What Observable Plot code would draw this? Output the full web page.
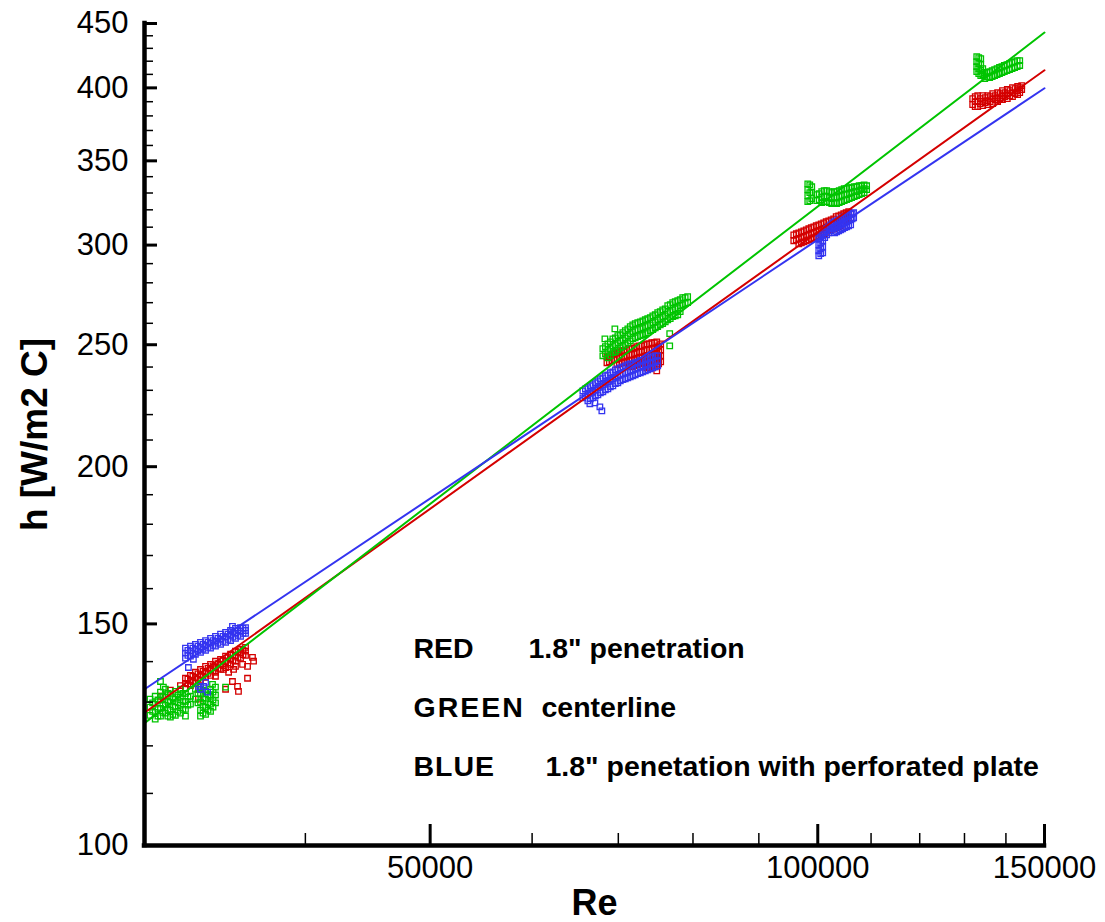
<!DOCTYPE html>
<html><head><meta charset="utf-8">
<script src="https://cdn.jsdelivr.net/npm/d3@7"></script>
<script src="https://cdn.jsdelivr.net/npm/@observablehq/plot@0.6"></script>
<style>body{margin:0;background:#fff}svg{display:block}</style>
</head><body><div id="chart"></div>
<script>
// ---- data: [Re, h] ----
const red1 = [[30870,131.4],[31420,132.9],[31990,134.0],[32280,135.8],[32280,134.5],[32280,133.3],[32570,136.5],[32570,135.3],[32570,134.0],[32860,137.3],[32860,136.0],[32860,134.6],[33160,138.0],[33160,136.5],[33160,135.3],[33460,138.8],[33460,137.3],[33460,136.0],[33760,139.3],[33760,138.0],[33760,136.5],[34060,140.1],[34060,138.5],[34060,137.3],[34370,140.6],[34370,139.3],[34370,138.0],[34680,141.4],[34680,140.1],[34680,138.5],[34990,141.9],[34990,140.6],[34990,139.3],[35300,142.7],[35300,141.4],[35300,140.1],[35620,143.2],[35620,142.2],[35620,140.9],[35940,143.7],[35940,142.7],[35940,141.6],[36390,141.1],[36460,140.1],[36070,138.8],[35750,139.3],[35300,138.8],[34550,138.0],[34060,136.3],[34680,133.1],[35430,133.8],[35490,132.6],[35110,135.0],[36070,135.8],[35180,138.0],[34870,137.3],[33040,133.1],[33040,130.7],
  [32420,135.6],[32420,134.4],[32710,136.3],[32710,135.0],[33010,136.9],[33010,135.6],[33310,137.5],[33310,136.3],[33610,138.3],[33610,137.0],[33910,138.9],[33910,137.6],[34210,139.5],[34210,138.3],[34520,140.3],[34520,139.0],[34830,141.0],[34830,139.7],[35140,141.6],[35140,140.3],[35460,142.4],[35460,141.1],[35780,142.9],[35780,141.8]];
const red2 = [[68590,244.6],[68590,241.9],[69200,245.5],[69200,242.8],[69820,246.4],[69820,243.7],[69820,241.0],[70440,247.3],[70440,244.6],[70440,241.9],[71070,247.7],[71070,245.0],[71070,242.3],[71710,248.2],[71710,245.5],[71710,242.8],[71710,240.1],[72350,249.1],[72350,246.4],[72350,243.7],[72350,241.0],[73000,249.5],[73000,246.8],[73000,244.1],[73000,241.4],[73650,250.4],[73650,247.7],[73650,245.0],[73650,242.3],[73650,239.6],[74320,250.9],[74320,248.2],[74320,245.5],[74320,242.8],[74320,240.1],[74980,251.3],[74980,248.6],[74980,245.9],[74980,243.2],[74980,240.5],[74980,238.3],[75510,250.4],[75510,247.7],[75510,245.0],[75510,242.3],
  [68890,245.0],[68890,242.3],[69510,245.9],[69510,243.2],[70130,246.8],[70130,244.1],[70130,241.4],[70760,247.3],[70760,244.6],[70760,241.9],[71390,248.2],[71390,245.5],[71390,242.8],[71390,240.5],[72030,248.6],[72030,245.9],[72030,243.2],[72030,240.5],[72670,249.5],[72670,246.8],[72670,244.1],[72670,241.4],[73320,250.0],[73320,247.3],[73320,244.6],[73320,241.9],[73980,250.4],[73980,247.7],[73980,245.0],[73980,242.3],[73980,239.6],[74650,250.9],[74650,248.2],[74650,245.5],[74650,242.8],[74650,240.1],[75240,249.5],[75240,246.8],[75240,244.1],[75240,241.4]];
const red3 = [[95800,305.7],[95800,302.4],[96670,306.8],[96670,303.5],[96670,300.7],[97540,307.9],[97540,304.6],[97540,301.8],[98410,309.1],[98410,305.7],[98410,302.9],[99290,310.2],[99290,306.8],[99290,304.1],[100180,311.3],[100180,307.9],[100180,305.2],[101070,312.5],[101070,309.1],[101070,306.3],[101980,313.6],[101980,310.2],[101980,307.9],[102890,314.8],[102890,311.9],[102890,309.1],[103810,316.5],[103810,313.1],[103810,310.2],[104750,317.7],[104750,314.2],[105690,318.9],[105690,315.4],
  [96240,306.3],[96240,302.9],[97110,307.4],[97110,304.1],[97110,301.3],[97970,308.5],[97970,305.2],[97970,302.4],[98850,309.7],[98850,306.3],[98850,303.5],[99730,310.8],[99730,307.4],[99730,304.6],[100620,311.9],[100620,308.5],[100620,305.7],[101520,313.1],[101520,309.7],[101520,306.8],[102430,314.2],[102430,311.3],[102430,308.5],[103350,316.0],[103350,312.5],[103350,309.7],[104280,317.1],[104280,313.6],[104280,310.8],[105210,318.3],[105210,314.8]];
const red4 = [[131920,392.2],[131920,387.9],[133120,394.4],[133120,390.0],[133120,386.5],[134320,394.4],[134320,390.0],[134320,387.2],[135520,394.4],[135520,390.8],[135520,387.9],[136730,395.8],[136730,392.2],[136730,388.6],[137940,396.6],[137940,392.9],[137940,390.0],[139140,398.0],[139140,394.4],[139140,391.5],[140350,398.8],[140350,395.8],[140350,392.2],[141660,400.2],[141660,396.6],[141660,393.7],[142960,401.0],[142960,398.0],[142960,395.1],[144010,401.7],[144010,398.8],
  [132520,393.7],[132520,390.0],[132520,386.5],[133720,392.2],[133720,388.6],[134920,392.9],[134920,389.3],[136120,393.7],[136120,390.0],[137330,394.4],[137330,391.5],[138540,395.8],[138540,392.2],[139750,396.6],[139750,393.7],[141000,398.0],[141000,394.4],[142300,399.5],[142300,395.8],[143500,400.2],[143500,396.6]];
const green1 = [[30300,130.7],[30300,128.8],[30300,126.9],[30580,131.4],[30580,129.5],[30580,127.6],[30580,126.0],[30870,135.0],[30870,132.4],[30870,130.5],[30870,128.5],[30870,126.7],[31140,133.1],[31140,131.2],[31140,129.3],[31140,127.4],[31420,131.9],[31420,130.0],[31420,128.1],[31420,126.5],[31700,132.6],[31700,130.7],[31700,128.8],[31700,126.9],[31990,133.1],[31990,131.2],[31990,129.3],[31990,127.4],[32280,132.1],[32280,130.2],[32280,128.3],[32280,126.7],[32570,131.4],[32570,129.5],[32860,133.1],[32860,130.7],[33160,133.6],[33160,131.9],[33160,130.0],[33160,128.1],[33160,126.7],[33460,132.6],[33460,130.7],[33460,128.8],[33460,127.1],[33760,133.1],[33760,131.4],[33760,129.5],[33760,127.8],[34060,133.6],[34060,131.7],[34060,129.8],[31030,133.6],[34680,133.6],[33880,134.3],
  [30440,129.8],[30440,127.8],[30730,130.5],[30730,128.5],[30730,126.7],[31000,131.4],[31000,129.5],[31000,127.6],[31280,132.1],[31280,130.2],[31280,128.3],[31280,126.7],[31560,131.0],[31560,129.0],[31560,127.1],[31850,131.7],[31850,129.8],[31850,127.8],[32130,132.1],[32130,130.2],[32130,128.3],[32420,131.2],[32420,129.3],[33010,132.1],[33010,129.8],[33310,132.9],[33310,131.0],[33310,129.0],[33310,127.4],[33610,131.7],[33610,129.8],[33610,128.1],[33910,132.4],[33910,130.5],[33910,128.8]];
const green2 = [[68090,248.2],[68090,245.0],[68710,250.4],[68710,247.3],[68710,244.1],[69320,252.7],[69320,249.5],[69320,246.4],[69940,254.2],[69940,250.9],[69940,247.7],[70570,255.6],[70570,252.3],[70570,249.1],[71200,257.4],[71200,254.2],[71200,250.9],[71830,259.3],[71830,256.0],[71830,252.7],[72480,260.3],[72480,257.0],[72480,253.7],[73130,261.2],[73130,257.9],[73130,254.6],[73780,262.2],[73780,258.9],[73780,255.6],[74450,263.6],[74450,260.3],[74450,257.0],[75110,265.1],[75110,261.7],[75110,258.4],[75780,266.5],[75780,263.2],[75780,259.8],[76470,268.5],[76470,265.1],[76470,261.7],[77150,270.0],[77150,266.5],[77150,263.2],[77850,271.0],[77850,267.5],[77850,264.1],[78540,272.5],[78540,269.0],[79240,273.0],[79240,270.0],[69570,257.4],[76740,255.1],[76740,249.5],[68340,252.7],
  [68400,249.1],[68400,245.9],[69010,251.3],[69010,248.2],[69010,245.0],[69630,253.2],[69630,250.0],[69630,246.8],[70250,254.6],[70250,251.8],[70250,248.6],[70880,256.5],[70880,253.2],[70880,250.0],[71510,258.4],[71510,255.1],[71510,251.8],[72150,259.8],[72150,256.5],[72150,253.2],[72810,260.7],[72810,257.4],[72810,254.2],[73460,261.7],[73460,258.4],[73460,255.1],[74120,262.7],[74120,259.3],[74120,256.5],[74780,264.1],[74780,260.7],[74780,257.9],[75450,265.6],[75450,262.2],[75450,259.3],[76130,267.0],[76130,263.6],[76130,260.7],[76810,269.0],[76810,265.6],[76810,262.2],[77500,270.5],[77500,267.0],[77500,263.6],[78190,271.5],[78190,268.5],[78190,265.6],[78890,272.5],[78890,269.5]];
const green3 = [[98230,335.6],[98230,332.0],[98230,328.4],[98230,324.8],[98930,333.8],[98930,330.2],[98930,326.6],[99820,329.0],[99820,325.4],[100710,330.8],[100710,327.2],[100710,324.2],[101610,331.4],[101610,327.8],[101610,324.8],[102530,330.2],[102530,326.6],[102530,323.6],[103440,330.8],[103440,327.2],[103440,323.6],[104370,332.0],[104370,328.4],[104370,324.8],[105310,332.6],[105310,329.0],[105310,326.0],[106250,333.2],[106250,330.2],[106250,327.2],[107200,333.8],[107200,330.8],[107200,328.4],[108170,334.4],[108170,332.0],[108170,329.6],[109130,334.4],[109130,332.0],
  [98580,335.0],[98580,330.2],[98580,325.4],[100260,329.6],[100260,326.0],[101160,331.4],[101160,327.8],[101160,324.8],[102070,330.8],[102070,327.2],[102070,324.2],[102980,330.8],[102980,327.2],[102980,324.2],[103910,331.4],[103910,327.8],[103910,324.2],[104840,332.6],[104840,329.0],[104840,325.4],[105780,333.2],[105780,329.6],[105780,326.6],[106730,333.8],[106730,330.8],[106730,327.8],[107680,334.4],[107680,331.4],[107680,329.0],[108640,335.0],[108640,332.6],[108640,330.2]];
const green4 = [[132880,423.6],[132880,419.7],[132880,415.9],[132880,412.1],[133840,422.0],[133840,417.4],[133840,412.9],[133840,409.1],[134800,411.4],[134800,406.9],[136000,412.1],[136000,407.6],[137200,413.6],[137200,409.1],[138400,415.2],[138400,410.6],[139600,416.7],[139600,412.1],[140900,418.2],[140900,413.6],[142200,419.7],[142200,415.2],[143500,420.5],[143500,416.7],
  [133360,422.8],[133360,418.2],[133360,414.4],[133360,410.6],[134320,414.4],[134320,409.8],[135400,411.4],[135400,408.3],[136600,412.9],[136600,408.3],[137800,414.4],[137800,409.8],[139000,415.9],[139000,411.4],[140250,417.4],[140250,412.9],[141550,419.0],[141550,414.4],[142850,420.5],[142850,415.9]];
const blue1 = [[32280,143.5],[32280,142.2],[32280,140.9],[32570,144.0],[32570,142.7],[32570,141.4],[32860,144.5],[32860,143.2],[32860,141.9],[33160,145.0],[33160,143.7],[33160,142.4],[33460,145.5],[33460,144.2],[33460,142.9],[33760,146.1],[33760,144.8],[33760,143.5],[34060,146.6],[34060,145.3],[34060,144.0],[34370,147.2],[34370,145.8],[34370,144.5],[34680,147.7],[34680,146.4],[34680,145.0],[34990,148.2],[34990,146.9],[34990,145.5],[35300,148.8],[35300,147.4],[35300,146.1],[35620,149.0],[35620,148.0],[35620,146.6],[35940,149.0],[35940,148.2],[35940,147.4],[32450,138.5],[33040,133.8],[33340,133.8],[33580,132.4],[33160,133.1],[35110,149.3],[32740,140.6],[33460,134.8],
  [32420,142.9],[32420,141.6],[32710,143.5],[32710,142.2],[33010,144.0],[33010,142.7],[33310,144.5],[33310,143.2],[33610,145.0],[33610,143.7],[33910,145.5],[33910,144.2],[34210,146.1],[34210,144.8],[34520,146.6],[34520,145.3],[34830,147.2],[34830,145.8],[35140,147.7],[35140,146.4],[35460,148.2],[35460,146.9],[35780,148.8],[35780,147.4]];
const blue2 = [[65700,229.8],[65700,226.8],[66290,231.1],[66290,228.1],[66290,225.6],[66890,232.4],[66890,229.4],[66890,226.8],[67490,234.0],[67490,231.1],[67490,228.1],[68090,235.3],[68090,232.4],[68090,229.4],[68710,236.6],[68710,233.6],[68710,230.6],[69320,237.9],[69320,234.9],[69320,231.9],[69940,239.2],[69940,236.2],[69940,233.2],[70570,240.1],[70570,237.1],[70570,234.5],[71200,241.0],[71200,237.9],[71200,235.3],[71830,241.4],[71830,238.8],[71830,236.2],[72480,242.3],[72480,239.6],[72480,237.1],[73130,242.8],[73130,240.5],[73130,237.9],[73780,243.7],[73780,241.4],[73780,238.8],[74450,244.6],[74450,241.9],[74450,239.6],[75110,245.0],[75110,242.8],[75110,240.5],[67730,223.1],[67970,221.5],[67130,224.8],[66530,224.4],
  [66000,230.6],[66000,227.7],[66590,231.9],[66590,228.9],[66590,226.4],[67190,233.2],[67190,230.2],[67190,227.7],[67790,234.9],[67790,231.9],[67790,228.9],[68400,236.2],[68400,233.2],[68400,230.2],[69010,237.5],[69010,234.5],[69010,231.5],[69630,238.8],[69630,235.7],[69630,232.8],[70250,239.6],[70250,236.6],[70250,234.0],[70880,240.5],[70880,237.5],[70880,234.9],[71510,241.4],[71510,238.3],[71510,235.7],[72150,241.9],[72150,239.2],[72150,236.6],[72810,242.8],[72810,240.1],[72810,237.5],[73460,243.2],[73460,241.0],[73460,238.3],[74120,244.1],[74120,241.9],[74120,239.2],[74780,245.0],[74780,242.3],[74780,240.1]];
const blue3 = [[100180,303.5],[100180,300.2],[100180,296.9],[100180,294.2],[100890,305.7],[100890,302.4],[100890,299.1],[100890,295.8],[101610,309.1],[101610,305.7],[102340,311.3],[102340,307.9],[103070,313.1],[103070,309.7],[103070,306.8],[103810,314.2],[103810,310.8],[103810,307.9],[104560,315.4],[104560,311.9],[104560,309.1],[105310,316.5],[105310,313.1],[105310,310.2],[106060,317.7],[106060,314.2],[106060,311.3],[106630,318.3],[106630,315.4],
  [100530,304.6],[100530,301.3],[100530,298.0],[100530,295.3],[101250,307.4],[101250,304.1],[101980,310.2],[101980,306.8],[102710,312.5],[102710,309.1],[103440,313.6],[103440,310.2],[103440,307.4],[104190,314.8],[104190,311.3],[104190,308.5],[104930,316.0],[104930,312.5],[104930,309.7],[105680,317.1],[105680,313.6],[105680,310.8],[106340,317.7],[106340,314.8]];

// power-law fit lines (h at Re = 30000 and 150000)
const fitRe = [30000, 150000];
const fitRed = [127.5, 413.1];
const fitGreen = [125.1, 442.6];
const fitBlue = [133.1, 399.7];

// axes
const xMajor = [50000, 100000, 150000];
const xMinor = [40000, 60000, 70000, 80000, 90000, 110000, 120000, 130000, 140000];
const yMajor = [100, 150, 200, 250, 300, 350, 400, 450];
const yMinor = [110,120,130,140,160,170,180,190,210,220,230,240,260,270,280,290,310,320,330,340,360,370,380,390,410,420,430,440];

// legend
const legendKeys = ["RED", "GREEN", "BLUE"];
const legendDesc = ['1.8" penetration', 'centerline', '1.8" penetation with perforated plate'];
const legendKeySpacing = [0, 2, 1];

const RED = "#d40000", GREEN = "#00c400", BLUE = "#3434f0";
const W = 1105, H = 922, mL = 144, mR = 61, mT = 23, mB = 77;
const iW = W - mL - mR, iH = H - mT - mB;

const pts = (...arrs) => arrs.flat().map(([re, h]) => ({re, h}));
const fit = (hs) => fitRe.map((re, i) => ({re, h: hs[i]}));
const dotOpts = (c) => ({x: "re", y: "h", symbol: "square", r: 3.1, fill: "none", stroke: c, strokeWidth: 1.3});

const legendMarks = legendKeys.flatMap((k, i) => [
  Plot.text([k], {frameAnchor: "top-left", dx: 269, dy: 625 + 59 * i, textAnchor: "start", lineAnchor: "middle", fontSize: 28.5, fontWeight: "bold"}),
  Plot.text([legendDesc[i]], {frameAnchor: "top-left", dx: [384, 397, 401][i], dy: 625 + 59 * i, textAnchor: "start", lineAnchor: "middle", fontSize: 28.5, fontWeight: "bold"})
]);

const chart = Plot.plot({
  width: W, height: H,
  marginLeft: mL, marginRight: mR, marginTop: mT, marginBottom: mB,
  style: {fontFamily: "'Liberation Sans', Arial, sans-serif", fontSize: "31px", color: "black", background: "white"},
  x: {type: "log", domain: [30000, 150000], axis: null},
  y: {type: "log", domain: [100, 450], axis: null},
  marks: [
    Plot.dot(pts(red1, red2, red3, red4), dotOpts(RED)),
    Plot.dot(pts(green1, green2, green3, green4), dotOpts(GREEN)),
    Plot.dot(pts(blue1, blue2, blue3), dotOpts(BLUE)),
    Plot.line(fit(fitRed), {x: "re", y: "h", stroke: RED, strokeWidth: 2}),
    Plot.line(fit(fitGreen), {x: "re", y: "h", stroke: GREEN, strokeWidth: 2}),
    Plot.line(fit(fitBlue), {x: "re", y: "h", stroke: BLUE, strokeWidth: 2}),
    // inward ticks
    Plot.tickX(xMinor, {x: d => d, insetTop: iH - 12, stroke: "black", strokeWidth: 1.5}),
    Plot.tickX(xMajor, {x: d => d, insetTop: iH - 21, stroke: "black", strokeWidth: 3}),
    Plot.tickY(yMinor, {y: d => d, insetRight: iW - 9, stroke: "black", strokeWidth: 1.5}),
    Plot.tickY(yMajor, {y: d => d, insetRight: iW - 13, stroke: "black", strokeWidth: 3}),
    // axis lines
    Plot.ruleX([30000], {x: d => d, strokeWidth: 4.5, stroke: "black", strokeLinecap: "square"}),
    Plot.ruleY([100], {y: d => d, strokeWidth: 4.5, stroke: "black", strokeLinecap: "square"}),
    // tick labels
    Plot.text(xMajor, {x: d => d, frameAnchor: "bottom", dy: 23, lineAnchor: "middle", text: d => String(d), fontSize: 31}),
    Plot.text(yMajor, {y: d => d, frameAnchor: "left", dx: -16, textAnchor: "end", lineAnchor: "middle", text: d => String(d), fontSize: 31}),
    // axis titles
    Plot.text(["Re"], {frameAnchor: "bottom", dy: 58, textAnchor: "middle", lineAnchor: "middle", fontSize: 36, fontWeight: "bold"}),
    Plot.text(["h [W/m2 C]"], {frameAnchor: "left", dx: -109, rotate: -90, textAnchor: "middle", lineAnchor: "middle", fontSize: 37, fontWeight: "bold"}),
    ...legendMarks
  ]
});
// slightly widen the letter spacing of the legend key words, as in the original
d3.select(chart).selectAll("text").each(function () {
  const i = legendKeys.indexOf(this.textContent);
  if (i >= 0) d3.select(this).attr("letter-spacing", legendKeySpacing[i]);
});
document.getElementById("chart").appendChild(chart);
</script>
</body></html>
